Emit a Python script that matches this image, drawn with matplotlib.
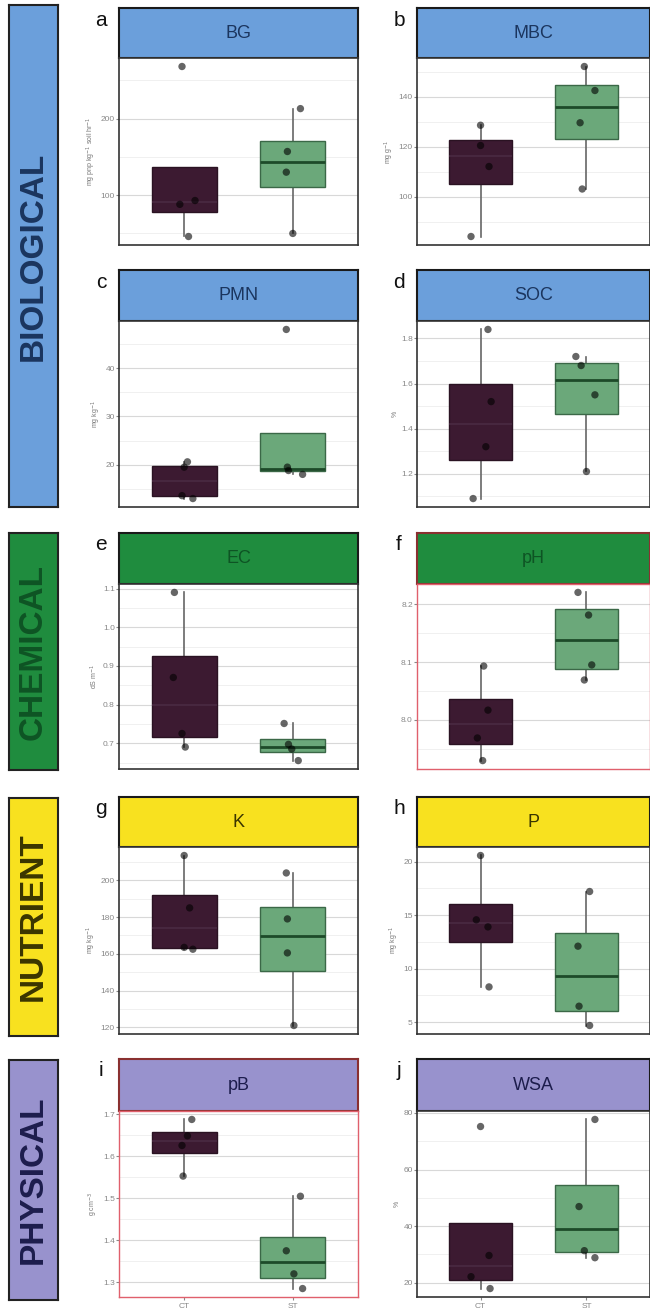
import numpy as np
import matplotlib.pyplot as plt
from matplotlib.ticker import MultipleLocator, FormatStrFormatter

W, H = 650, 1312

groups = ['CT', 'ST']
panel_letters = ['a', 'b', 'c', 'd', 'e', 'f', 'g', 'h', 'i', 'j']
panel_names = ['BG', 'MBC', 'PMN', 'SOC', 'EC', 'pH', 'K', 'P', 'pB', 'WSA']
panel_units = ['mg pnp kg$^{-1}$ soil hr$^{-1}$', 'mg g$^{-1}$', 'mg kg$^{-1}$', '%',
               'dS m$^{-1}$', '', 'mg kg$^{-1}$', 'mg kg$^{-1}$', 'g cm$^{-3}$', '%']
categories = ['BIOLOGICAL', 'CHEMICAL', 'NUTRIENT', 'PHYSICAL']

# values, 4 replicates per tillage group
ct_vals = [
    [46, 88, 93, 268],
    [84, 112, 120.4, 128.5],
    [13.0, 13.6, 19.5, 20.6],
    [1.09, 1.32, 1.52, 1.84],
    [0.69, 0.725, 0.87, 1.09],
    [7.93, 7.969, 8.017, 8.093],
    [162.5, 163.5, 185, 213.5],
    [8.3, 13.9, 14.56, 20.56],
    [1.553, 1.626, 1.649, 1.688],
    [17.9, 22.1, 29.6, 75.2],
]
st_vals = [
    [50, 130, 157, 213],
    [103, 129.5, 142.4, 152],
    [18.0, 18.8, 19.5, 48],
    [1.21, 1.55, 1.68, 1.72],
    [0.655, 0.685, 0.697, 0.751],
    [8.069, 8.095, 8.181, 8.22],
    [121, 160.5, 179, 204],
    [4.7, 6.5, 12.1, 17.2],
    [1.285, 1.32, 1.375, 1.505],
    [28.8, 31.3, 46.9, 77.7],
]
# horizontal jitter of the points (as seen in the figure)
ct_jit = [
    [0.04, -0.04, 0.10, -0.02],
    [-0.09, 0.08, 0.0, 0.0],
    [0.08, -0.02, 0.0, 0.03],
    [-0.07, 0.05, 0.10, 0.07],
    [0.01, -0.02, -0.10, -0.09],
    [0.02, -0.03, 0.07, 0.03],
    [0.08, 0.0, 0.05, 0.0],
    [0.08, 0.07, -0.04, 0.0],
    [-0.01, -0.02, 0.03, 0.07],
    [0.09, -0.09, 0.08, 0.0],
]
st_jit = [
    [0.0, -0.06, -0.05, 0.07],
    [-0.04, -0.06, 0.08, -0.02],
    [0.09, -0.04, -0.05, -0.06],
    [0.0, 0.08, -0.05, -0.10],
    [0.05, -0.01, -0.04, -0.08],
    [-0.02, 0.05, 0.02, -0.08],
    [0.01, -0.05, -0.05, -0.06],
    [0.03, -0.07, -0.08, 0.03],
    [0.09, 0.01, -0.06, 0.07],
    [0.08, -0.02, -0.07, 0.08],
]
major_step = [100, 20, 10, 0.2, 0.1, 0.1, 20, 5, 0.1, 20]
tick_fmt = ['%d', '%d', '%d', '%.1f', '%.1f', '%.1f', '%d', '%d', '%.1f', '%d']

strip_cols = ['#6b9fdb', '#1f8c3e', '#f8e11f', '#9892cd']
strip_txt = ['#1b355e', '#0e5424', '#3a3500', '#1d1d4d']
ct_col = '#3c1a31'
st_col = '#6ba87a'

# layout in pixels
col_x = [(119, 358), (417, 650)]
row_y = [(8, 58, 245), (270, 321, 507), (533, 584, 769), (797, 847, 1034), (1059, 1111, 1297)]
cat_y = [(5, 507), (533, 770), (798, 1036), (1060, 1300)]
row_cat = [0, 0, 1, 2, 3]
red_panels = ['pH', 'pB']


def px(l, t, r, b):
    return [l / W, 1 - b / H, (r - l) / W, (b - t) / H]


fig = plt.figure(figsize=(W / 100, H / 100), dpi=100)
plt.rcParams['font.family'] = ['Liberation Sans', 'DejaVu Sans']

# category strips on the left
for i, cat in enumerate(categories):
    t, b = cat_y[i]
    cax = fig.add_axes(px(9, t, 58, b))
    cax.set_facecolor(strip_cols[i])
    cax.set_xticks([])
    cax.set_yticks([])
    for s in cax.spines.values():
        s.set_color('#222222')
        s.set_linewidth(1.5)
    cax.text(0.5, 0.5, cat, rotation=90, ha='center', va='center', fontsize=24,
             fontweight='bold', color=strip_txt[i], transform=cax.transAxes)

for k, name in enumerate(panel_names):
    row, col = k // 2, k % 2
    cat = row_cat[row]
    l, r = col_x[col]
    t, sb, b = row_y[row]
    red = name in red_panels

    sax = fig.add_axes(px(l, t, r, sb))
    sax.set_facecolor(strip_cols[cat])
    sax.set_xticks([])
    sax.set_yticks([])
    for s in sax.spines.values():
        s.set_color('#8a3030' if red else '#1a1a1a')
        s.set_linewidth(1.5)
    sax.text(0.5, 0.5, name, ha='center', va='center', fontsize=13,
             color=strip_txt[cat], transform=sax.transAxes)

    fig.text((l - 18) / W, 1 - (t + 12) / H, panel_letters[k], fontsize=15,
             ha='center', va='center', color='#111111')

    ax = fig.add_axes(px(l, sb, r, b))
    bp = ax.boxplot([ct_vals[k], st_vals[k]], positions=[1, 2], widths=0.6,
                    patch_artist=True, showfliers=False, showcaps=False,
                    whiskerprops=dict(color='#666666', lw=1.2),
                    medianprops=dict(lw=2.0))
    for patch, fc, ec in zip(bp['boxes'], [ct_col, st_col], ['#2a1222', '#3b6847']):
        patch.set_facecolor(fc)
        patch.set_edgecolor(ec)
        patch.set_linewidth(1.0)
        patch.set_zorder(2)
    bp['medians'][0].set_color('#4a2a42')
    bp['medians'][0].set_linewidth(1.2)
    bp['medians'][1].set_color('#1d4a29')
    for w in bp['whiskers']:
        w.set_zorder(1.5)

    ax.scatter(1 + np.array(ct_jit[k]), ct_vals[k], s=28, color='black',
               alpha=0.6, edgecolor='none', zorder=4)
    ax.scatter(2 + np.array(st_jit[k]), st_vals[k], s=28, color='black',
               alpha=0.6, edgecolor='none', zorder=4)

    allv = ct_vals[k] + st_vals[k]
    lo, hi = min(allv), max(allv)
    pad = (hi - lo) * 0.05
    ax.set_ylim(lo - pad, hi + pad)
    ax.set_xlim(0.4, 2.6)

    ax.yaxis.set_major_locator(MultipleLocator(major_step[k]))
    ax.yaxis.set_minor_locator(MultipleLocator(major_step[k] / 2))
    ax.yaxis.set_major_formatter(FormatStrFormatter(tick_fmt[k]))
    ax.grid(True, axis='y', which='major', color='#d8d8d8', lw=0.8, zorder=0)
    ax.grid(True, axis='y', which='minor', color='#eeeeee', lw=0.6, zorder=0)
    ax.set_axisbelow(True)
    ax.tick_params(axis='y', which='major', labelsize=6, colors='#888888', length=2, pad=1)
    ax.tick_params(axis='y', which='minor', length=0)
    ax.set_xticks([1, 2])
    if row == 4:
        ax.set_xticklabels(groups)
        ax.tick_params(axis='x', labelsize=6, colors='#888888', length=2, pad=2)
    else:
        ax.set_xticklabels([])
        ax.tick_params(axis='x', length=0)
    ax.set_ylabel(panel_units[k], fontsize=5, color='#777777', labelpad=2)

    for s in ax.spines.values():
        s.set_color('#e0606c' if red else '#333333')
        s.set_linewidth(1.0 if red else 1.2)

fig.savefig('out.png', dpi=100)
